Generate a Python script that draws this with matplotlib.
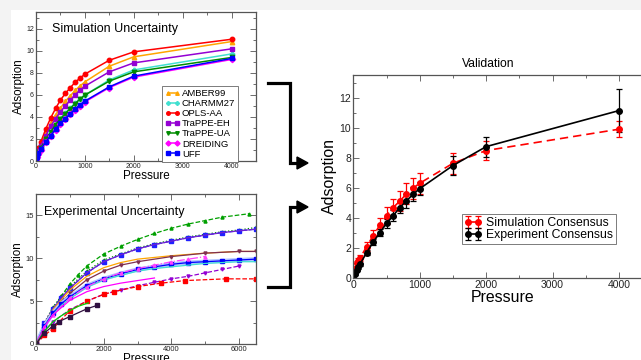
import matplotlib
matplotlib.use('Agg')
import matplotlib.pyplot as plt
from matplotlib.lines import Line2D
from matplotlib.patches import Polygon, Rectangle
from matplotlib.ticker import MultipleLocator

plt.rcParams['font.family'] = ['Liberation Sans', 'DejaVu Sans']

# ---------------- data: simulation uncertainty ----------------
P_SIM = [0, 25, 50, 100, 200, 300, 400, 500, 600, 700, 800, 900, 1000, 1500, 2000, 4000]
amber99 = [0, 0.6, 1.0, 1.55, 2.5, 3.4, 4.2, 4.8, 5.4, 5.9, 6.4, 6.8, 7.17, 8.59, 9.44, 10.82]
charmm27 = [0, 0.45, 0.8, 1.2, 2.0, 2.65, 3.3, 3.85, 4.35, 4.8, 5.25, 5.6, 5.97, 7.35, 8.25, 9.7]
opls_aa = [0, 0.7, 1.2, 1.75, 2.9, 3.89, 4.76, 5.52, 6.12, 6.63, 7.14, 7.5, 7.87, 9.13, 9.89, 11.03]
trappe_eh = [0, 0.55, 0.95, 1.4, 2.3, 3.15, 3.85, 4.45, 5.0, 5.5, 6.0, 6.4, 6.78, 8.08, 8.89, 10.16]
trappe_ua = [0, 0.45, 0.8, 1.15, 1.95, 2.6, 3.3, 3.8, 4.3, 4.75, 5.2, 5.6, 5.97, 7.24, 8.08, 9.38]
dreiding = [0, 0.4, 0.65, 1.0, 1.7, 2.25, 2.85, 3.35, 3.8, 4.25, 4.65, 5.0, 5.35, 6.65, 7.6, 9.2]
uff = [0, 0.4, 0.7, 1.05, 1.75, 2.3, 2.9, 3.4, 3.85, 4.3, 4.7, 5.1, 5.43, 6.72, 7.69, 9.29]
SIM_NAMES = ['AMBER99', 'CHARMM27', 'OPLS-AA', 'TraPPE-EH', 'TraPPE-UA', 'DREIDING', 'UFF']

# ---------------- data: experimental uncertainty ----------------
exp_p_a = [0, 250, 500, 750, 1000, 1250, 1500, 2000, 2500, 3000, 3500, 4000, 4500, 5000, 5500, 6300]
exp_y_a = [0, 2.4, 4.0, 5.6, 7.0, 8.1, 9.1, 10.5, 11.4, 12.2, 12.9, 13.5, 14.0, 14.4, 14.8, 15.2]
exp_p_b = [0, 250, 500, 750, 1000, 1500, 2000, 2500, 3000, 3500, 4000, 4500, 5000, 5500, 6000, 6500]
exp_y_b = [0, 2.5, 4.3, 5.6, 6.7, 8.5, 9.8, 10.5, 11.2, 11.7, 12.1, 12.5, 12.8, 13.1, 13.3, 13.6]
exp_y_c = [0, 2.4, 4.1, 5.4, 6.5, 8.3, 9.6, 10.4, 11.1, 11.6, 12.0, 12.4, 12.7, 13.0, 13.2, 13.4]
exp_p_d = [0, 250, 500, 1000, 1500, 2000, 2500, 3000, 4000, 5000, 6000, 6500]
exp_y_d = [0, 2.3, 4.0, 6.3, 7.9, 8.9, 9.5, 9.9, 10.3, 10.6, 10.8, 10.8]
exp_y_e = [0, 2.1, 3.7, 5.9, 7.5, 8.5, 9.2, 9.6, 10.2, 10.6, 10.8, 10.8]
exp_p_f = [0, 250, 500, 750, 1000, 1500, 2000, 2500, 3000, 3500, 4000, 4500, 5000, 5500, 6000, 6500]
exp_y_f = [0, 2.1, 3.6, 4.7, 5.5, 6.8, 7.6, 8.2, 8.7, 9.0, 9.3, 9.5, 9.6, 9.7, 9.8, 9.9]
exp_y_g = [0, 2.0, 3.4, 4.5, 5.3, 6.6, 7.5, 8.0, 8.5, 8.8, 9.0, 9.2, 9.4, 9.5, 9.6, 9.6]
exp_p_h = [0, 250, 500, 1000, 1500, 2000, 2500, 3000, 3500, 4000, 4500, 5000]
exp_y_h = [0, 2.0, 3.4, 5.4, 6.7, 7.6, 8.3, 8.8, 9.2, 9.6, 9.9, 10.2]
exp_p_i = [0, 250, 500, 1000, 1500, 2000, 2500, 3000, 3500, 4000, 4500, 5000, 5500, 6000]
exp_y_i = [0, 1.5, 2.6, 4.0, 5.0, 5.8, 6.3, 6.8, 7.2, 7.6, 7.9, 8.3, 8.7, 9.1]
exp_p_j = [0, 250, 500, 1000, 1500, 2000, 2500, 3000, 3500]
exp_y_j = [0, 2.0, 3.4, 5.1, 6.1, 6.7, 7.1, 7.4, 7.7]
exp_p_k = [0, 250, 500, 1000, 1500, 2000, 2300, 3000, 3700, 4400, 5600, 6500]
exp_y_k = [0, 1.0, 1.8, 3.9, 5.0, 5.8, 6.1, 6.7, 7.1, 7.4, 7.6, 7.6]
exp_p_l = [0, 250, 500, 750, 1000, 1250, 1550]
exp_y_l = [0, 1.5, 2.6, 3.3, 3.9, 4.4, 4.8]
exp_p_m = [0, 250, 500, 670, 1000, 1500, 1800]
exp_y_m = [0, 1.3, 2.1, 2.6, 3.2, 4.1, 4.5]

# ---------------- data: validation ----------------
P_VAL = [0, 25, 50, 75, 100, 200, 300, 400, 500, 600, 700, 800, 900, 1000, 1500, 2000, 4000]
sim_cons = [0, 0.6, 0.95, 1.1, 1.29, 2.07, 2.8, 3.5, 4.13, 4.67, 5.1, 5.58, 5.96, 6.29, 7.62, 8.47, 9.89]
sim_err = [0, 0.1, 0.15, 0.2, 0.2, 0.3, 0.4, 0.5, 0.55, 0.6, 0.65, 0.7, 0.7, 0.7, 0.7, 0.65, 0.55]
exp_cons = [0, 0.25, 0.5, 0.7, 0.89, 1.67, 2.38, 3.0, 3.62, 4.13, 4.67, 5.11, 5.56, 5.93, 7.47, 8.73, 11.13]
exp_err = [0, 0.05, 0.08, 0.1, 0.12, 0.15, 0.2, 0.25, 0.3, 0.35, 0.35, 0.45, 0.45, 0.45, 0.63, 0.67, 1.43]

W, H = 641, 360
fig = plt.figure(figsize=(W / 100, H / 100), dpi=100)
fig.patch.set_facecolor('#f3f3f3')
fig.add_artist(Rectangle((11 / W, 0), 1, 1 - 10 / H, transform=fig.transFigure,
                         facecolor='white', edgecolor='none', zorder=-10))


def px(x, y):
    return x / W, 1 - y / H


def style(ax, xmaj, xmin, ymaj, ymin, fs):
    ax.xaxis.set_major_locator(MultipleLocator(xmaj))
    ax.xaxis.set_minor_locator(MultipleLocator(xmin))
    ax.yaxis.set_major_locator(MultipleLocator(ymaj))
    ax.yaxis.set_minor_locator(MultipleLocator(ymin))
    ax.tick_params(which='both', direction='in', top=True, right=True,
                   labelsize=fs, color='#555', labelcolor='#222', width=0.6, pad=1.5)
    ax.tick_params(which='major', length=4)
    ax.tick_params(which='minor', length=2)
    for s in ax.spines.values():
        s.set_linewidth(0.9)
        s.set_color('#555')


# ---------------- panel 1 ----------------
ax1 = fig.add_axes([36 / W, 1 - 161 / H, 220 / W, 149 / H])
sim_series = [amber99, charmm27, opls_aa, trappe_eh, trappe_ua, dreiding, uff]
sim_colors = ['#ffa500', '#40e0d0', '#ff0000', '#9400d3', '#008b00', '#ff00ff', '#0000ff']
sim_markers = ['^', 'P', 'o', 's', 'v', 'D', 's']
for name, ys, c, m in zip(SIM_NAMES, sim_series, sim_colors, sim_markers):
    ax1.plot(P_SIM, ys, color=c, marker=m, ms=3.2, lw=1.1, label=name)
ax1.set_xlim(0, 4500)
ax1.set_ylim(0, 13.5)
style(ax1, 1000, 500, 2, 1, 5)
ax1.set_xlabel('Pressure', fontsize=8.4, labelpad=0)
ax1.set_ylabel('Adsorption', fontsize=8.4, labelpad=1)
ax1.text(0.073, 0.885, 'Simulation Uncertainty', transform=ax1.transAxes,
         fontsize=9, va='center', ha='left')
leg1 = ax1.legend(loc='upper left', bbox_to_anchor=(0.573, 0.503), borderaxespad=0,
                  fontsize=6.8, numpoints=2, handlelength=1.6, handletextpad=0.2,
                  labelspacing=0.12, borderpad=0.3, fancybox=False, framealpha=1,
                  markerscale=0.8)
leg1.get_frame().set_edgecolor('#666')
leg1.get_frame().set_linewidth(0.6)

# ---------------- panel 2 ----------------
ax2 = fig.add_axes([36 / W, 1 - 344 / H, 220 / W, 150 / H])
exp_curves = [
    (exp_p_a, exp_y_a, '#00a000', '--', '^'),
    (exp_p_b, exp_y_b, '#008b00', ':', '^'),
    (exp_p_b, exp_y_c, '#2020ff', '--', 's'),
    (exp_p_b, exp_y_c, '#7020d0', '-', ''),
    (exp_p_d, exp_y_d, '#ffa500', '-', ''),
    (exp_p_d, exp_y_e, '#803050', '-', 'v'),
    (exp_p_f, exp_y_f, '#b0c4ff', '-', ''),
    (exp_p_f, exp_y_f, '#0000ff', '-', 's'),
    (exp_p_f, exp_y_g, '#40e0d0', '-', ''),
    (exp_p_h, exp_y_h, '#ff40ff', '-.', '^'),
    (exp_p_i, exp_y_i, '#9400d3', '--', 'v'),
    (exp_p_j, exp_y_j, '#ff00ff', '-', ''),
    (exp_p_k, exp_y_k, '#ff0000', '--', 's'),
    (exp_p_l, exp_y_l, '#00d000', '-', ''),
    (exp_p_m, exp_y_m, '#301040', '-', 's'),
]
for i, (xs, ys, c, ls, m) in enumerate(exp_curves):
    lw = 3 if c == '#b0c4ff' else 0.9
    ax2.plot(xs, ys, color=c, ls=ls, marker=m if m else None, ms=2.2, lw=lw)
ax2.set_xlim(0, 6500)
ax2.set_ylim(0, 17.5)
style(ax2, 2000, 1000, 5, 2.5, 5.5)
ax2.set_xlabel('Pressure', fontsize=8.4, labelpad=0)
ax2.set_ylabel('Adsorption', fontsize=8.4, labelpad=1)
ax2.text(0.036, 0.882, 'Experimental Uncertainty', transform=ax2.transAxes,
         fontsize=9, va='center', ha='left')

# ---------------- panel 3 ----------------
ax3 = fig.add_axes([353.3 / W, 1 - 277.7 / H, 298.9 / W, 202.7 / H])
ax3.errorbar(P_VAL, sim_cons, yerr=sim_err, color='#ff0000', ls=(0, (5, 3)), lw=1.2,
             marker='o', ms=4, capsize=2.5, elinewidth=0.9, capthick=0.9,
             label='Simulation Consensus')
ax3.errorbar(P_VAL, exp_cons, yerr=exp_err, color='black', ls='-', lw=1.2,
             marker='o', ms=4, capsize=2.5, elinewidth=0.9, capthick=0.9,
             label='Experiment Consensus')
ax3.set_xlim(0, 4500)
ax3.set_ylim(0, 13.5)
style(ax3, 1000, 500, 2, 1, 7.5)
ax3.set_xlabel('Pressure', fontsize=11.4, labelpad=0)
ax3.set_ylabel('Adsorption', fontsize=11.4, labelpad=2)
fig.text(*px(488, 64), 'Validation', fontsize=8.7, ha='center', va='center')
leg3 = ax3.legend(loc='upper left', bbox_to_anchor=px(461.7, 214),
                  bbox_transform=fig.transFigure, borderaxespad=0,
                  fontsize=8.8, numpoints=2, handlelength=1.4, handletextpad=0.35,
                  labelspacing=0.0, borderpad=0.25, fancybox=False, framealpha=1)
leg3.get_frame().set_edgecolor('#666')
leg3.get_frame().set_linewidth(0.6)

# ---------------- arrows ----------------
for path, tip in [([(268, 83), (290, 83), (290, 163), (298, 163)], (308, 163)),
                  ([(268, 287), (290, 287), (290, 207), (298, 207)], (308, 207))]:
    xs = [px(*p)[0] for p in path]
    ys = [px(*p)[1] for p in path]
    fig.add_artist(Line2D(xs, ys, color='black', lw=2.3, solid_joinstyle='miter',
                          transform=fig.transFigure))
    tx, ty = tip
    fig.add_artist(Polygon([px(tx, ty), px(tx - 11, ty - 6), px(tx - 11, ty + 6)],
                           closed=True, facecolor='black', edgecolor='black',
                           transform=fig.transFigure))

fig.savefig('out.png', dpi=100, facecolor=fig.get_facecolor())
